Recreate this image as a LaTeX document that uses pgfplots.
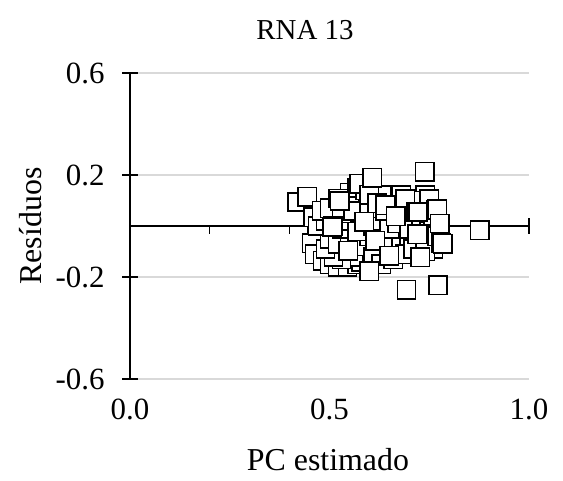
\documentclass[border=0pt]{standalone}
\usepackage{fontspec}
\setmainfont{Liberation Serif}
\usepackage{pgfplots}
\pgfplotsset{compat=1.18}
\begin{document}
\begin{tikzpicture}
\begin{axis}[
  scale only axis,
  width=399bp, height=306bp,
  xmin=0, xmax=1, ymin=-0.6, ymax=0.6,
  axis lines=left,
  axis line style={-, line width=1.4bp},
  x axis line style={draw=none},
  xtick={0,0.5,1}, xticklabels={0.0,0.5,1.0},
  xtick style={draw=none},
  ytick={-0.6,-0.2,0.2,0.6}, yticklabels={-0.6,-0.2,0.2,0.6},
  ytick align=center,
  ytick style={line width=1.4bp, black},
  major tick length=16bp,
  ymajorgrids,
  grid style={black!15, line width=1.3bp},
  /pgf/number format/assume math mode=true,
  tick label style={font=\fontsize{31}{34}\selectfont, black},
  xticklabel style={yshift=-8bp},
  yticklabel style={xshift=-14bp},
  clip=false,
]
\draw[line width=1.4bp] (axis cs:0,0) -- (axis cs:1,0);
\draw[line width=1.4bp] (axis cs:0.2,0) -- (axis cs:0.2,-0.031);
\draw[line width=1.4bp] (axis cs:0.4,0) -- (axis cs:0.4,-0.031);
\draw[line width=1.4bp] (axis cs:0.6,0) -- (axis cs:0.6,-0.031);
\draw[line width=1.4bp] (axis cs:0.8,0) -- (axis cs:0.8,-0.031);
\draw[line width=1.4bp] (axis cs:1,-0.031) -- (axis cs:1,0.031);
\addplot[only marks, mark=square*, mark size=9.2bp,
  mark options={fill=white, draw=black, line width=1.5bp}] coordinates {
(0.419,0.094) (0.444,0.114) (0.459,0.035) (0.469,-0.038) (0.456,-0.067)
(0.463,-0.110) (0.483,-0.137) (0.50,-0.15) (0.52,-0.16) (0.545,-0.16)
(0.57,-0.15) (0.60,-0.16) (0.58,-0.14) (0.56,-0.12) (0.53,-0.13)
(0.51,-0.12) (0.49,-0.09) (0.50,-0.05) (0.52,-0.07) (0.55,-0.05)
(0.58,-0.08) (0.60,-0.04) (0.63,-0.07) (0.66,-0.05) (0.68,-0.08)
(0.70,-0.06) (0.74,-0.05) (0.76,-0.09) (0.61,-0.12) (0.63,-0.15)
(0.66,-0.13) (0.69,-0.11) (0.71,-0.09) (0.74,-0.10) (0.47,0.00)
(0.49,0.02) (0.53,-0.01) (0.55,0.02) (0.57,-0.02) (0.61,0.00)
(0.63,0.02) (0.65,-0.01) (0.67,0.01) (0.70,-0.01) (0.73,0.01)
(0.75,-0.02) (0.77,-0.04) (0.48,0.06) (0.50,0.07) (0.53,0.05)
(0.56,0.06) (0.60,0.07) (0.64,0.06) (0.69,0.06) (0.70,0.08)
(0.74,0.08) (0.76,0.04) (0.55,0.13) (0.57,0.15) (0.59,0.14)
(0.63,0.12) (0.68,0.12) (0.74,0.12) (0.73,0.10) (0.574,0.165)
(0.522,0.108) (0.526,0.098) (0.600,0.122) (0.620,0.090) (0.640,0.082)
(0.607,0.190) (0.690,0.106) (0.750,0.106) (0.666,0.039) (0.717,0.055)
(0.722,0.055) (0.767,0.063) (0.770,0.066) (0.776,0.010) (0.587,0.016)
(0.508,0.000) (0.507,-0.004) (0.780,-0.068) (0.784,-0.070) (0.720,-0.033)
(0.615,-0.058) (0.547,-0.097) (0.650,-0.116) (0.727,-0.122) (0.600,-0.177)
(0.739,0.212) (0.877,-0.016) (0.693,-0.250) (0.772,-0.232)
};
\end{axis}
\node[font=\fontsize{29}{32}\selectfont] at (175bp,349bp) {RNA 13};
\node[font=\fontsize{32}{35}\selectfont] at (198bp,-81bp) {PC estimado};
\node[font=\fontsize{32}{35}\selectfont, rotate=90] at (-99bp,153bp) {Resíduos};
\pgfresetboundingbox
\path[use as bounding box] (-130bp,-102bp) rectangle (433bp,379bp);
\end{tikzpicture}
\end{document}
